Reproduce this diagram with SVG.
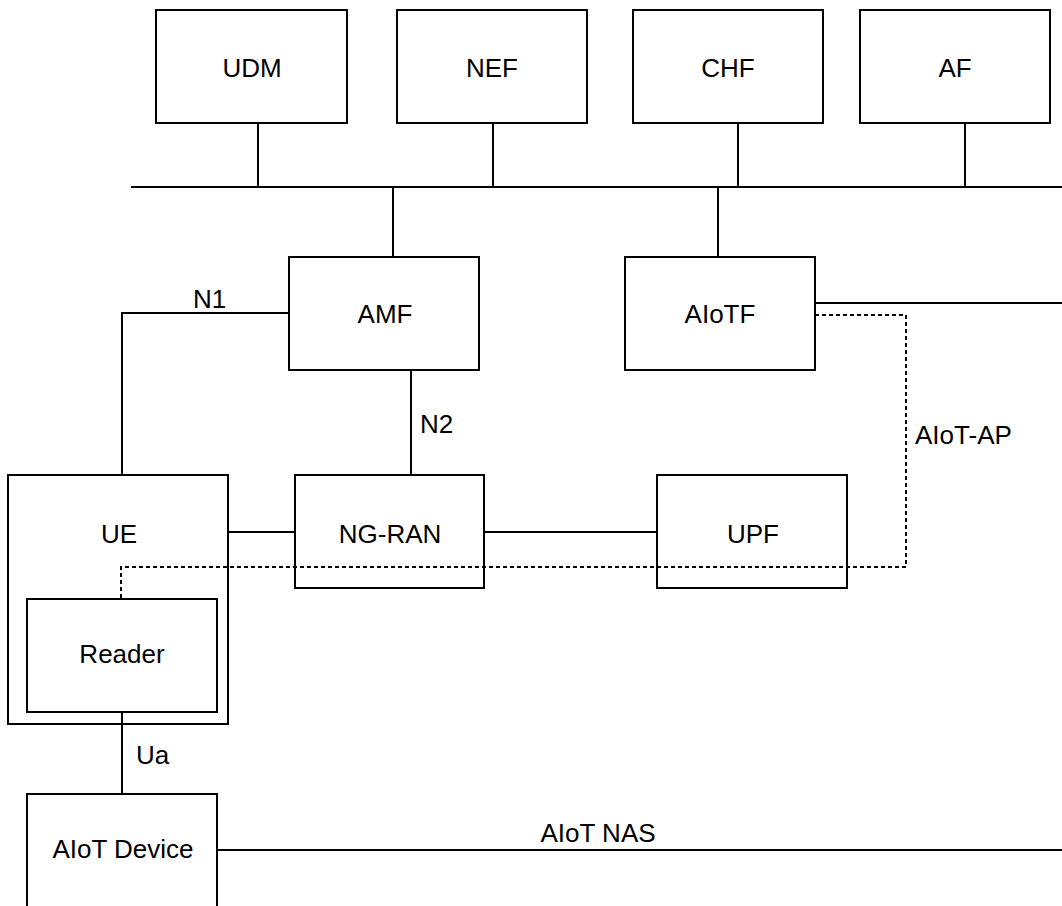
<svg xmlns="http://www.w3.org/2000/svg" width="1062" height="906" viewBox="0 0 1062 906">
<style>
.box{fill:#fff;stroke:#000;stroke-width:2}
.ln{fill:none;stroke:#000;stroke-width:2}
.dot{fill:none;stroke:#000;stroke-width:2;stroke-dasharray:4 3}
text{font-family:"Liberation Sans",Arial,sans-serif;font-size:26px;fill:#000}
.c{text-anchor:middle}
</style>
<rect width="1062" height="906" fill="#fff"/>
<g id="connectors">
<path class="ln" d="M131 187H1062"/>
<path class="ln" d="M258 123V187M493 123V187M738 123V187M965 123V187"/>
<path class="ln" d="M393 187V257M718 187V257"/>
<path class="ln" d="M289 313H122V475"/>
<path class="ln" d="M411 370V475"/>
<path class="ln" d="M228 532H295M484 532H657"/>
<path class="ln" d="M815 303H1062"/>
<path class="dot" d="M815 315H906V567H121V599"/>
<path class="ln" d="M122 712V794"/>
<path class="ln" d="M217 850H1062"/>
<text x="193" y="308">N1</text>
<text x="420" y="433">N2</text>
<text x="915" y="444">AIoT-AP</text>
<text x="136" y="764">Ua</text>
<text class="c" x="598" y="842">AIoT NAS</text>
</g>
<g id="udm"><rect class="box" x="156" y="10" width="191" height="113"/><text class="c" x="252" y="77">UDM</text></g>
<g id="nef"><rect class="box" x="397" y="10" width="190" height="113"/><text class="c" x="492" y="77">NEF</text></g>
<g id="chf"><rect class="box" x="633" y="10" width="190" height="113"/><text class="c" x="728" y="77">CHF</text></g>
<g id="af"><rect class="box" x="860" y="10" width="190" height="113"/><text class="c" x="955" y="77">AF</text></g>
<g id="amf"><rect class="box" x="289" y="257" width="190" height="113"/><text class="c" x="385" y="323">AMF</text></g>
<g id="aiotf"><rect class="box" x="625" y="257" width="190" height="113"/><text class="c" x="720" y="323">AIoTF</text></g>
<g id="ue"><rect class="box" x="8" y="475" width="220" height="249" style="fill:none"/><text class="c" x="119" y="543">UE</text></g>
<g id="ngran"><rect class="box" x="295" y="475" width="189" height="113" style="fill:none"/><text class="c" x="390" y="543">NG-RAN</text></g>
<g id="upf"><rect class="box" x="657" y="475" width="190" height="113" style="fill:none"/><text class="c" x="753" y="543">UPF</text></g>
<g id="reader"><rect class="box" x="27" y="599" width="190" height="113"/><text class="c" x="122" y="663">Reader</text></g>
<g id="aiot-device"><rect class="box" x="27" y="794" width="190" height="130"/><text class="c" x="123" y="858">AIoT Device</text></g>
</svg>
